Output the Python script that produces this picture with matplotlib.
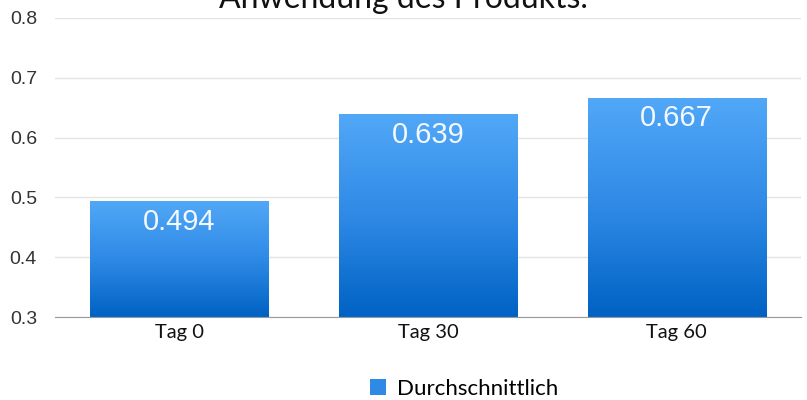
import numpy as np
import matplotlib.pyplot as plt
from matplotlib.colors import LinearSegmentedColormap
from matplotlib.patches import Patch

categories = ['Tag 0', 'Tag 30', 'Tag 60']
values = [0.494, 0.639, 0.667]
series_name = 'Durchschnittlich'
title = 'Anwendung des Produkts.'

fig = plt.figure(figsize=(8.07, 4.0), dpi=100)
ax = fig.add_axes([55/807, 1-317/400, 746/807, 299/400])

cmap = LinearSegmentedColormap.from_list('bar', ['#0062c4', '#2f8ae6', '#52a8f7'])
grad = np.linspace(0, 1, 256).reshape(-1, 1)

x = np.arange(len(categories))
bars = ax.bar(x, values, width=0.716, bottom=0, color='none', zorder=2)
for b, v in zip(bars, values):
    x0 = b.get_x()
    im = ax.imshow(grad, cmap=cmap, origin='lower', aspect='auto',
                   extent=[x0, x0 + b.get_width(), 0.3, v], zorder=2)
    im.set_clip_path(b)
    ax.text(b.get_x() + b.get_width()/2, v - 0.035, f'{v:.3f}', ha='center', va='center',
            color='#f4f8ff', fontsize=21, family='Liberation Sans', zorder=3)

ax.set_xlim(-0.5, 2.5)
ax.set_ylim(0.3, 0.8)
ax.set_yticks([0.3, 0.4, 0.5, 0.6, 0.7, 0.8])
ax.set_yticklabels(['0.3', '0.4', '0.5', '0.6', '0.7', '0.8'], family='Liberation Sans',
                   fontsize=14, color='#333333')
ax.set_xticks(x)
ax.set_xticklabels(categories, family='Lato', fontsize=14.5, color='#111111')
ax.tick_params(axis='both', length=0)
ax.tick_params(axis='y', pad=13)
ax.tick_params(axis='x', pad=5)
ax.grid(axis='y', color='#e4e4e4', linewidth=1, zorder=0)
ax.set_axisbelow(True)
for s in ['top', 'right', 'left']:
    ax.spines[s].set_visible(False)
ax.spines['bottom'].set_color('#999999')

fig.text(0.5, 1 - 8/400, title, ha='center', va='baseline', fontsize=23, family='Lato',
         color='#111111')

fig.legend(handles=[Patch(facecolor='#2f8ae6', edgecolor='none')], labels=[series_name],
           loc='center', bbox_to_anchor=(0.575, 1 - 389/400), frameon=False,
           prop={'family': 'Lato', 'size': 16}, handlelength=0.75, handleheight=0.75,
           handletextpad=0.5)

fig.savefig('out.png', dpi=100)
